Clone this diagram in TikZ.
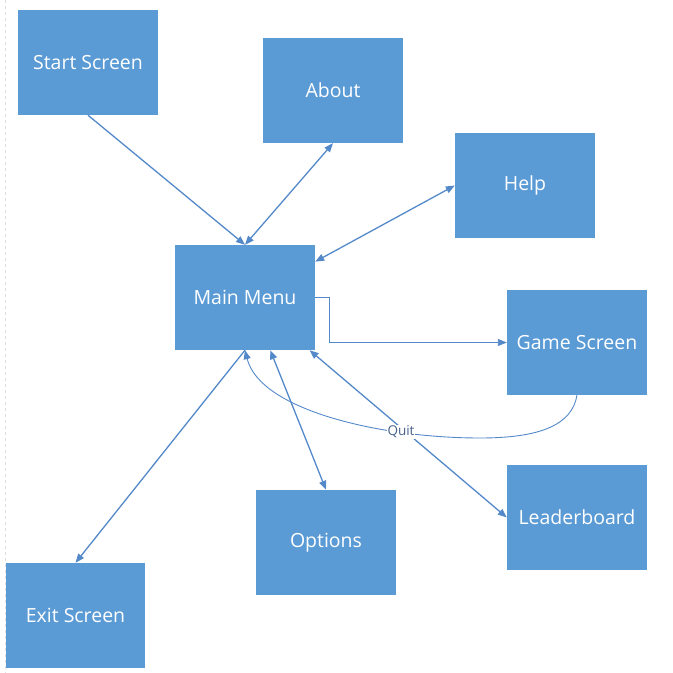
\documentclass[tikz,border=0pt]{standalone}
\usepackage{fontspec}
\setmainfont{Open Sans}
\usetikzlibrary{arrows.meta,calc}
\definecolor{boxblue}{RGB}{91,155,213}
\definecolor{lineblue}{RGB}{84,137,201}
\definecolor{quitgray}{RGB}{72,98,140}
\tikzset{
  screen/.style={fill=boxblue, draw=none, minimum width=140, minimum height=105, inner sep=0, text=white, font=\fontsize{19.5}{22}\selectfont},
  link/.style={draw=lineblue, line width=1.3, -{Triangle[length=9,width=7]}},
  dlink/.style={link, {Triangle[length=9,width=7]}-{Triangle[length=9,width=7]}},
  thinlink/.style={draw=lineblue, line width=0.9, -{Triangle[length=9,width=7]}}
}
\begin{document}
\begin{tikzpicture}[x=1pt,y=1pt,yscale=-1,xscale=1]
\useasboundingbox (0,0) rectangle (673,673);
\draw [gray!25, dashed] (5,0) -- (5,673);

\node [screen] (start) at (88,62.5) {Start Screen};
\node [screen] (about) at (333,90.5) {About};
\node [screen] (help) at (525,185.5) {Help};
\node [screen] (menu) at (245,297.5) {Main Menu};
\node [screen] (game) at (577,342.5) {Game Screen};
\node [screen] (leader) at (577,517.5) {Leaderboard};
\node [screen] (options) at (326,542.5) {Options};
\node [screen, minimum width=139] (exit) at (75.5,615.5) {Exit Screen};

% points on the main menu box
\coordinate (menuR) at ($(menu.north east)!0.16!(menu.south east)$);
\coordinate (menuO) at ($(menu.south west)!0.68!(menu.south east)$);
\coordinate (menuL) at ($(menu.south west)!0.96!(menu.south east)$);

\draw [link] (start.south) -- (menu.north);
\draw [dlink] (about.south) -- (menu.north);
\draw [dlink] (help.west) -- (menuR);
\draw [thinlink] (menu.east) -- ++(14,0) |- (game.west);
\draw [dlink] (options.north) -- (menuO);
\draw [dlink] (leader.west) -- (menuL);
\draw [link] (menu.south) -- (exit.north);
\draw [thinlink] (game.south) .. controls (572,425) and (540,438) .. (480,438) .. controls (380,438) and (260,410) .. (menu.south);

\node [fill=white, inner sep=0.5, text=quitgray, font=\fontsize{13.5}{15}\selectfont] (quit) at (401,432) {Quit};
\end{tikzpicture}
\end{document}
